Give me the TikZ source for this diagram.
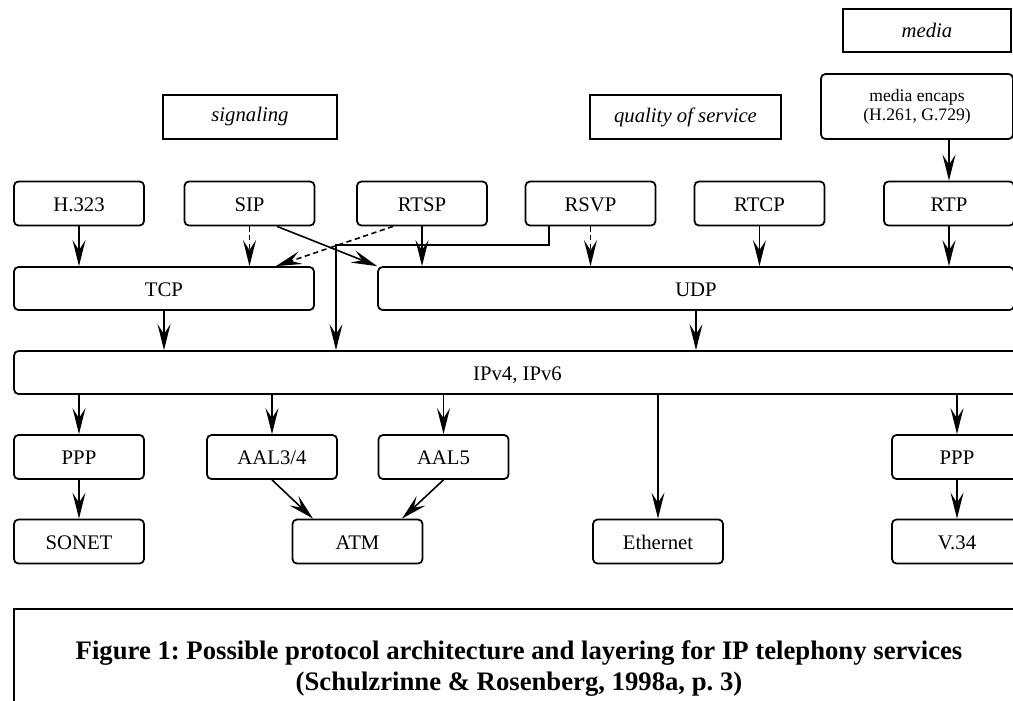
\documentclass[tikz,border=0pt]{standalone}
\usepackage{fontspec}
\setmainfont{Liberation Serif}
\usetikzlibrary{arrows.meta}

\begin{document}
\begin{tikzpicture}[x=0.02cm, y=-0.02cm,
    boite/.style={draw, line width=1pt, rounded corners=2.5pt, minimum width=2.6cm,
        minimum height=0.88cm, inner sep=0pt, text height=0.86em, text depth=0pt,
        font=\fontsize{11.8}{14}\selectfont},
    plan/.style={draw, line width=1pt, minimum height=0.88cm, inner sep=0pt,
        font=\fontsize{11.8}{14}\selectfont\itshape},
    fleche/.style={-{Stealth[length=5.2mm, width=2.6mm, inset=2mm]}, line width=0.9pt},
    tirets/.style={fleche, dash pattern=on 3pt off 2pt},
    legende/.style={font=\fontsize{15.2}{18}\selectfont\bfseries\frenchspacing, inner sep=0pt}]

    \useasboundingbox (0,0) rectangle (1013,700);

    % ==============================================
    % 1. Plans : signalisation, qualite de service, media
    % ==============================================
    \node[plan, minimum width=3.48cm] (signaling) at (250, 117) {signaling};
    \node[plan, minimum width=3.82cm] (qos) at (685.5, 117) {quality of service};
    \node[plan, minimum width=3.36cm, minimum height=0.86cm] (media) at (927, 30.5) {media};
    \node[boite, minimum width=3.84cm, minimum height=1.3cm, text height=, text depth=,
        align=center, font=\fontsize{10}{11}\selectfont] (encaps) at (917, 106.5)
        {media encaps\\(H.261, G.729)};

    % ==============================================
    % 2. Protocoles applicatifs
    % ==============================================
    \foreach \nom/\x/\texte in {h323/79/H.323, sip/249.5/SIP, rtsp/422/RTSP,
                               rsvp/590.5/RSVP, rtcp/759.5/RTCP, rtp/949/RTP} {
        \node[boite] (\nom) at (\x, 203.5) {\texte};
    }

    % Transport et reseau
    \node[boite, minimum width=6cm, minimum height=0.86cm] (tcp) at (164, 288.5) {TCP};
    \node[boite, minimum width=12.72cm, minimum height=0.86cm] (udp) at (696, 288.5) {UDP};
    \node[boite, minimum width=20.14cm, minimum height=0.86cm] (ip) at (517.5, 372.5) {IPv4, IPv6};

    % ==============================================
    % 3. Couches basses
    % ==============================================
    \foreach \nom/\x/\texte in {ppp/79/PPP, aal34/272/{AAL3/4}, aal5/443.5/AAL5, pppb/957/PPP} {
        \node[boite] (\nom) at (\x, 457) {\texte};
    }
    \foreach \nom/\x/\texte in {sonet/79/SONET, atm/357.5/ATM, ethernet/658/Ethernet, v34/957/V.34} {
        \node[boite] (\nom) at (\x, 541.5) {\texte};
    }

    % ==============================================
    % 4. Fleches
    % ==============================================
    \foreach \haut/\bas in {h323/tcp, rtsp/udp, rtcp/udp, rtp/udp, tcp/ip, udp/ip, ppp/sonet, pppb/v34} {
        \draw[fleche] (\haut.south) -- (\haut.south |- \bas.north);
    }
    \foreach \bas in {ppp, aal34, aal5, ethernet, pppb} {
        \draw[fleche] (\bas.north |- ip.south) -- (\bas.north);
    }
    \draw[fleche] (rtp.north |- encaps.south) -- (rtp.north);

    % Fleches en pointilles
    \draw[tirets] (sip.south) -- (sip.south |- tcp.north);
    \draw[tirets] (rsvp.south) -- (rsvp.south |- udp.north);
    \draw[tirets] ([xshift=-0.58cm]rtsp.south) -- ([xshift=-0.78cm]tcp.north east);

    % SIP vers UDP, RSVP vers IP
    \draw[fleche] ([xshift=0.55cm]sip.south) -- (udp.north west);
    \coordinate (coude) at (336, 245);
    \draw[fleche] ([xshift=-0.83cm]rsvp.south) |- (coude) -- (coude |- ip.north);

    % ATM
    \draw[fleche] (aal34.south) -- ([xshift=-0.89cm]atm.north);
    \draw[fleche] (aal5.south) -- ([xshift=0.89cm]atm.north);

    % ==============================================
    % 5. Legende
    % ==============================================
    \draw[line width=0.6pt] (14, 720) |- (1030, 609);
    \node[legende, anchor=base] (legende1) at (519, 659)
        {Figure 1: Possible protocol architecture and layering for IP telephony services};
    \node[legende, anchor=base] (legende2) at (519, 690)
        {(Schulzrinne \& Rosenberg, 1998a, p. 3)};

\end{tikzpicture}
\end{document}
